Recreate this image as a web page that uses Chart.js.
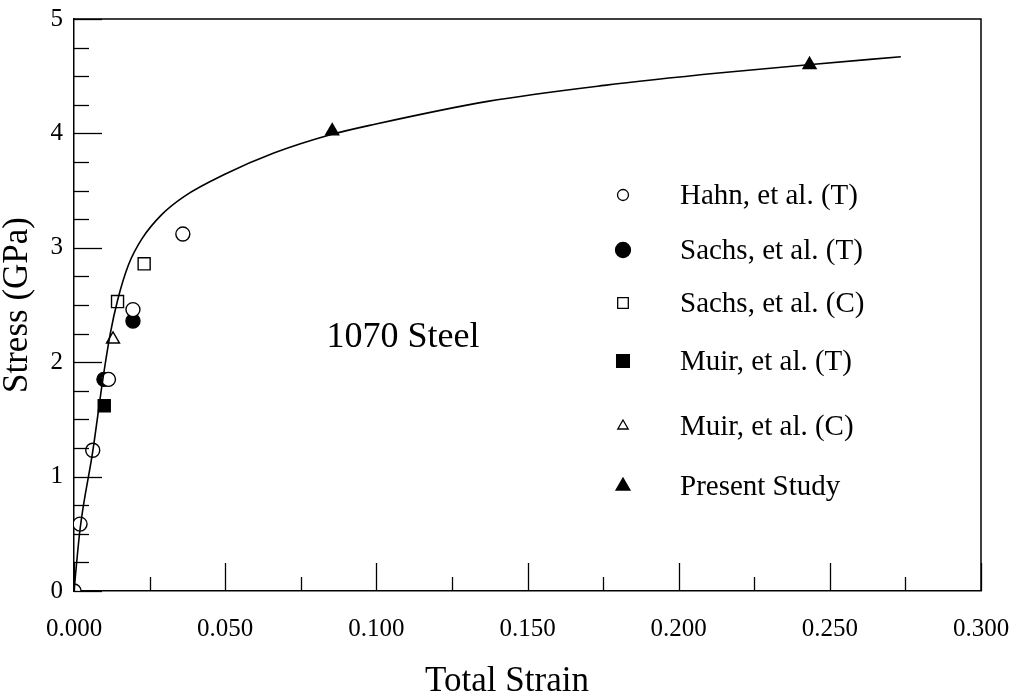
<!DOCTYPE html>
<html>
<head>
<meta charset="utf-8">
<script src="https://cdn.jsdelivr.net/npm/chart.js@4/dist/chart.umd.min.js"></script>
<style>
  html, body { margin: 0; padding: 0; background: #fff; }
  #wrap { width: 1015px; height: 699px; }
</style>
</head>
<body>
<div id="wrap"><canvas id="c" width="1015" height="699"></canvas></div>
<script>
// Stress-strain data for 1070 steel (strain, stress in GPa)
const seriesLabels = ['Hahn, et al. (T)', 'Sachs, et al. (T)', 'Sachs, et al. (C)', 'Muir, et al. (T)', 'Muir, et al. (C)', 'Present Study'];

const hahnStrain = [0, 0.0020, 0.0062, 0.0114, 0.0195, 0.0360];
const hahnStress = [0, 0.585, 1.23, 1.85, 2.46, 3.12];

const sachsTStrain = [0.0099, 0.0195];
const sachsTStress = [1.85, 2.36];

const sachsCStrain = [0.0144, 0.0232];
const sachsCStress = [2.53, 2.86];

const muirTStrain = [0.0100];
const muirTStress = [1.62];

const muirCStrain = [0.0129];
const muirCStress = [2.20];

const presentStrain = [0.0854, 0.2433];
const presentStress = [4.02, 4.60];

// fitted flow curve
const curveStrain = [0, 0.0020, 0.0062, 0.0096, 0.0120, 0.0145, 0.0180, 0.0225, 0.0290, 0.0365, 0.0497, 0.0663, 0.0851, 0.0995, 0.1368, 0.1754, 0.2141, 0.2429, 0.2735];
const curveStress = [0, 0.54, 1.22, 1.86, 2.25, 2.55, 2.85, 3.08, 3.29, 3.45, 3.64, 3.83, 3.99, 4.08, 4.28, 4.42, 4.53, 4.60, 4.67];

const xTicks = [0, 0.05, 0.10, 0.15, 0.20, 0.25, 0.30];
const yTicks = [0, 1, 2, 3, 4, 5];

const xTitle = 'Total Strain';
const yTitle = 'Stress (GPa)';
const note = '1070 Steel';

const SERIF = '"Liberation Serif", "Times New Roman", "DejaVu Serif", serif';

const pts = (xs, ys) => xs.map((x, i) => ({ x: x, y: ys[i] }));

function markerSet(label, xs, ys, style, filled, r) {
  return {
    type: 'scatter',
    label: label,
    data: pts(xs, ys),
    showLine: false,
    pointStyle: style,
    pointRadius: r,
    pointHoverRadius: r,
    pointBackgroundColor: filled ? '#000' : '#fff',
    pointBorderColor: '#000',
    pointBorderWidth: 1.4
  };
}

const datasets = [
  {
    type: 'line',
    label: 'curve',
    data: pts(curveStrain, curveStress),
    borderColor: '#000',
    borderWidth: 1.6,
    pointRadius: 0,
    fill: false,
    cubicInterpolationMode: 'monotone'
  },
  markerSet(seriesLabels[0], hahnStrain, hahnStress, 'circle', false, 7),
  markerSet(seriesLabels[1], sachsTStrain, sachsTStress, 'circle', true, 7),
  markerSet(seriesLabels[2], sachsCStrain, sachsCStress, 'rect', false, 8.5),
  markerSet(seriesLabels[3], muirTStrain, muirTStress, 'rect', true, 8.5),
  markerSet(seriesLabels[4], muirCStrain, muirCStress, 'triangle', false, 7.5),
  markerSet(seriesLabels[5], presentStrain, presentStress, 'triangle', true, 7.5)
];

// inward tick marks, frame, legend, x title and annotation
const decorations = {
  id: 'decorations',
  afterDraw(chart) {
    const ctx = chart.ctx;
    const xs = chart.scales.x, ys = chart.scales.y;
    const a = chart.chartArea;
    ctx.save();
    ctx.strokeStyle = '#000';
    ctx.lineWidth = 1.5;
    // frame top and right
    ctx.beginPath();
    ctx.moveTo(a.left, a.top);
    ctx.lineTo(a.right, a.top);
    ctx.lineTo(a.right, a.bottom);
    ctx.stroke();

    ctx.lineWidth = 1.3;
    // y ticks: major every 1, minor every 0.25
    for (let k = 0; k <= 20; k++) {
      const v = k * 0.25;
      const py = Math.round(ys.getPixelForValue(v)) + 0.5;
      const len = (k % 4 === 0) ? 28 : 15;
      ctx.beginPath();
      ctx.moveTo(a.left, py);
      ctx.lineTo(a.left + len, py);
      ctx.stroke();
    }
    // x ticks: major every 0.05, minor every 0.025
    for (let k = 0; k <= 12; k++) {
      const v = k * 0.025;
      const px = Math.round(xs.getPixelForValue(v)) + 0.5;
      const len = (k % 2 === 0) ? 28 : 14;
      ctx.beginPath();
      ctx.moveTo(px, a.bottom);
      ctx.lineTo(px, a.bottom - len);
      ctx.stroke();
    }

    // legend
    const rows = [195, 250, 303, 361, 426, 486];
    const sizes = [5.5, 7.5, 7.5, 9, 6, 8];
    const markerX = 623, textX = 680;
    ctx.font = '29px ' + SERIF;
    ctx.fillStyle = '#000';
    ctx.textBaseline = 'middle';
    ctx.textAlign = 'left';
    chart.data.datasets.slice(1).forEach((ds, i) => {
      const y = rows[i];
      drawMarker(ctx, ds.pointStyle, markerX, y, sizes[i], ds.pointBackgroundColor);
      ctx.fillStyle = '#000';
      ctx.fillText(ds.label, textX, y + 1);
    });

    // annotation
    ctx.font = '36px ' + SERIF;
    ctx.textAlign = 'center';
    ctx.fillText(note, 403, 338);

    // x axis title
    ctx.font = '35px ' + SERIF;
    ctx.fillText(xTitle, 507, 682);
    ctx.restore();
  }
};

function drawMarker(ctx, style, x, y, r, fill) {
  ctx.beginPath();
  if (style === 'circle') {
    ctx.arc(x, y, r, 0, Math.PI * 2);
  } else if (style === 'rect') {
    const h = r * Math.SQRT1_2;
    ctx.rect(x - h, y - h, 2 * h, 2 * h);
  } else if (style === 'triangle') {
    ctx.moveTo(x, y - r);
    ctx.lineTo(x + r * 0.866, y + r * 0.5);
    ctx.lineTo(x - r * 0.866, y + r * 0.5);
    ctx.closePath();
  }
  ctx.fillStyle = fill;
  ctx.fill();
  ctx.lineWidth = 1.3;
  ctx.strokeStyle = '#000';
  ctx.stroke();
}

function zeroPad(s) {
  s.paddingTop = 0;
  s.paddingBottom = 0;
  s.paddingLeft = 0;
  s.paddingRight = 0;
}

new Chart(document.getElementById('c'), {
  data: { datasets: datasets },
  options: {
    responsive: false,
    animation: false,
    events: [],
    layout: { padding: { left: 0, top: 19, right: 34, bottom: 0 } },
    plugins: {
      legend: { display: false },
      tooltip: { enabled: false }
    },
    scales: {
      x: {
        type: 'linear',
        min: 0,
        max: 0.3,
        afterBuildTicks: s => { s.ticks = xTicks.map(v => ({ value: v })); },
        afterFit: s => { s.height = 108; zeroPad(s); },
        grid: { display: false, drawTicks: false },
        border: { display: true, color: '#000', width: 1.5 },
        ticks: {
          color: '#000',
          padding: 23,
          maxRotation: 0,
          autoSkip: false,
          font: { family: SERIF, size: 25 },
          callback: v => v.toFixed(3)
        },
        title: { display: false }
      },
      y: {
        type: 'linear',
        min: 0,
        max: 5,
        afterBuildTicks: s => { s.ticks = yTicks.map(v => ({ value: v })); },
        afterFit: s => { s.width = 74; zeroPad(s); },
        grid: { display: false, drawTicks: false },
        border: { display: true, color: '#000', width: 1.5 },
        ticks: {
          color: '#000',
          padding: 11,
          font: { family: SERIF, size: 25 },
          callback: v => String(v)
        },
        title: {
          display: true,
          text: yTitle,
          color: '#000',
          font: { family: SERIF, size: 35, lineHeight: 1 },
          padding: { top: 0, bottom: 0 }
        }
      }
    }
  },
  plugins: [decorations]
});
</script>
</body>
</html>
